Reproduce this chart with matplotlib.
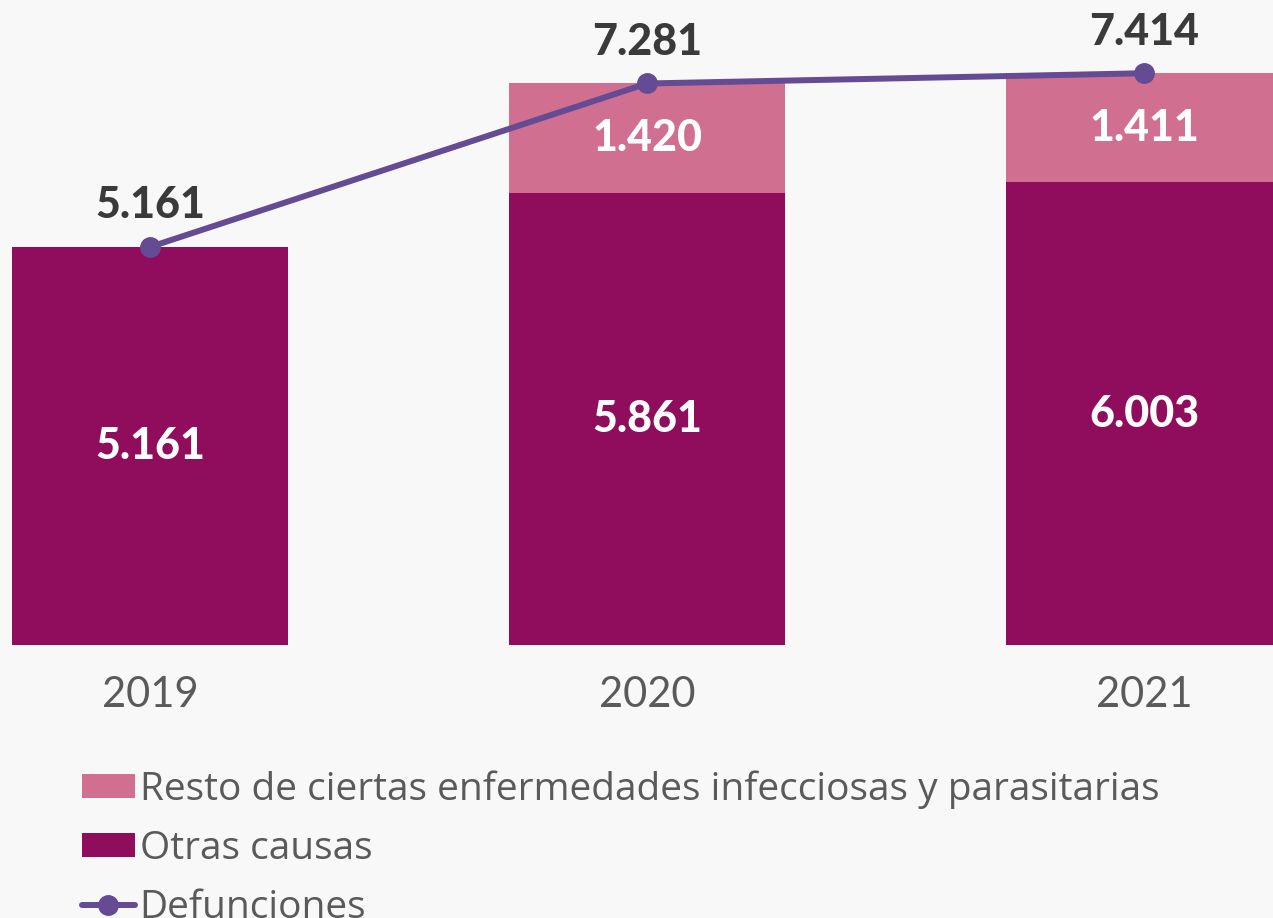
import matplotlib.pyplot as plt
import numpy as np

years = ["2019", "2020", "2021"]
otras_causas = [5161, 5861, 6003]
resto_infecciosas = [0, 1420, 1411]
defunciones = [5161, 7281, 7414]

BG = "#f8f8f8"
DARK = "#8f0d5c"
PINK = "#d06f8f"
LINE = "#654a94"
TXT = "#3a3a3a"
GRAY = "#5a5a5a"

W, H = 1273, 918
fig = plt.figure(figsize=(W / 100, H / 100), dpi=100, facecolor=BG)
# axes span the full width; the bottom of the bars sits at pixel row 645
ax = fig.add_axes([0, (H - 645) / H, 1, 645 / H], facecolor=BG)

x = np.arange(len(years))
px = 497.0  # pixels per category
width = 276 / px

b_otras = ax.bar(x, otras_causas, width, color=DARK, label="Otras causas", zorder=2)
b_resto = ax.bar(x, resto_infecciosas, width, bottom=otras_causas, color=PINK,
                 label="Resto de ciertas enfermedades infecciosas y parasitarias", zorder=2)
l_def, = ax.plot(x, defunciones, color=LINE, lw=4.3, marker="o", ms=14,
                 solid_capstyle="round", label="Defunciones", zorder=3)

ax.set_xlim(-150 / px, (W - 150) / px)
ax.set_ylim(0, 645 / 0.07712)

def fmt(v):
    return f"{v:,}".replace(",", ".")

numfont = dict(family="Lato", weight="black", fontsize=31)
for i in range(len(years)):
    ax.text(x[i], otras_causas[i] / 2, fmt(otras_causas[i]), color="white",
            ha="center", va="center", zorder=4, **numfont)
    if resto_infecciosas[i] > 0:
        ax.text(x[i], otras_causas[i] + resto_infecciosas[i] / 2,
                fmt(resto_infecciosas[i]), color="white",
                ha="center", va="center", zorder=4, **numfont)
    ax.annotate(fmt(defunciones[i]), (x[i], defunciones[i]),
                xytext=(0, 30), textcoords="offset points",
                ha="center", va="center", color=TXT, zorder=4, **numfont)

for s in ax.spines.values():
    s.set_visible(False)
ax.set_yticks([])
ax.set_xticks([])
for i, y in enumerate(years):
    fig.text((150 + 497 * i) / W, 1 - 695 / H, y, ha="center", va="center",
             family="Lato", fontsize=30, color=GRAY)

fig.legend([b_resto, b_otras, l_def],
           [b_resto.get_label(), b_otras.get_label(), l_def.get_label()],
           loc="upper left", bbox_to_anchor=(82 / W, 1 - 770 / H),
           frameon=False, labelcolor=GRAY,
           prop=dict(family="Open Sans", size=28),
           handlelength=1.36, handleheight=0.55, handletextpad=0.12,
           labelspacing=0.54, borderpad=0, borderaxespad=0)

fig.savefig("out.png", dpi=100, facecolor=BG)
